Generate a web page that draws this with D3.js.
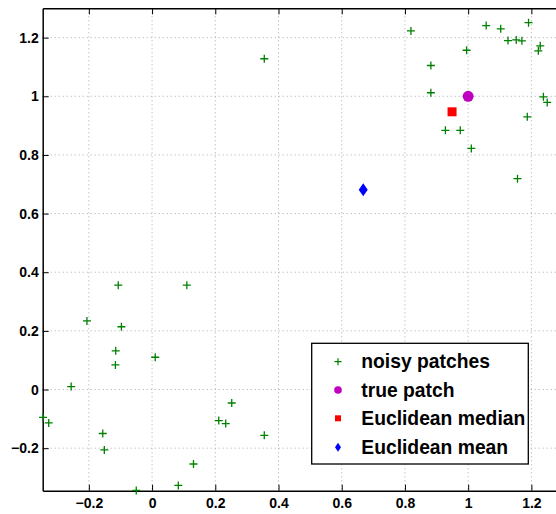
<!DOCTYPE html>
<html lang="en">
<head>
<meta charset="utf-8">
<title>Noisy patches</title>
<script src="https://d3js.org/d3.v7.min.js"></script>
<style>
  body { margin: 0; background: #fff; }
  text { font-family: "Liberation Sans", Arial, sans-serif; font-weight: bold; }
  .tick-label { font-size: 14px; }
  .legend-label { font-size: 19.3px; }
</style>
</head>
<body>
<div id="vis"></div>
<script>
// noisy patches (x, y)
const noisyX = [0.355, 0.819, 1.057, 1.103, 1.191, 1.126, 1.152, 1.170, 1.228, 1.222,
  0.995, 0.882, 0.882, 1.238, 1.250, 1.187, 0.928, 0.975, 1.010, 1.156,
  -0.107, 0.110, -0.206, -0.097, -0.115, -0.116, 0.010, -0.256, -0.345, -0.327,
  -0.156, -0.151, -0.050, 0.083, 0.131, 0.211, 0.233, 0.252, 0.355];
const noisyY = [1.128, 1.223, 1.241, 1.230, 1.251, 1.190, 1.192, 1.189, 1.172, 1.155,
  1.157, 1.105, 1.012, 0.998, 0.979, 0.930, 0.884, 0.884, 0.822, 0.719,
  0.356, 0.356, 0.234, 0.214, 0.132, 0.084, 0.110, 0.010, -0.095, -0.114,
  -0.150, -0.206, -0.344, -0.327, -0.254, -0.106, -0.116, -0.046, -0.156];
const truePatch = [1.0, 1.0];
const euclidMedian = [0.949, 0.947];
const euclidMean = [0.668, 0.681];

const xTicks = [-0.2, 0, 0.2, 0.4, 0.6, 0.8, 1, 1.2];
const yTicks = [-0.2, 0, 0.2, 0.4, 0.6, 0.8, 1, 1.2];
const legendLabels = ["noisy patches", "true patch", "Euclidean median", "Euclidean mean"];

const width = 556, height = 514;
const plotLeft = 42.7, plotTop = 8.3, plotRight = 563, plotBottom = 490.7;

const x = d3.scaleLinear().domain([-0.346, 1.3]).range([plotLeft, plotRight]);
const y = d3.scaleLinear().domain([-0.345, 1.3]).range([plotBottom, plotTop]);

const svg = d3.select("#vis").append("svg")
  .attr("width", width)
  .attr("height", height);

// grid
const grid = svg.append("g").attr("stroke", "#aaa").attr("stroke-width", 1)
  .attr("stroke-dasharray", "1,3");
grid.selectAll(".gx").data(xTicks).enter().append("line")
  .attr("x1", d => x(d)).attr("x2", d => x(d))
  .attr("y1", plotTop).attr("y2", plotBottom);
grid.selectAll(".gy").data(yTicks).enter().append("line")
  .attr("x1", plotLeft).attr("x2", plotRight)
  .attr("y1", d => y(d)).attr("y2", d => y(d));

// axes (MATLAB-like inward ticks)
const fmt = d => d3.format("")(d).replace("-", "\u2212");
const bottomAxis = d3.axisBottom(x).tickValues(xTicks).tickSizeInner(-6).tickSizeOuter(0).tickPadding(7).tickFormat(fmt);
const topAxis = d3.axisTop(x).tickValues(xTicks).tickSizeInner(-6).tickSizeOuter(0).tickFormat("");
const leftAxis = d3.axisLeft(y).tickValues(yTicks).tickSizeInner(-6).tickSizeOuter(0).tickPadding(4).tickFormat(fmt);

function styleAxis(g) {
  g.select(".domain").attr("stroke", "#000").attr("stroke-width", 1.5);
  g.selectAll(".tick line").attr("stroke", "#000").attr("stroke-width", 1);
  g.selectAll(".tick text").attr("class", "tick-label").attr("fill", "#000");
  g.attr("font-size", null).attr("font-family", null);
}

svg.append("g").attr("transform", `translate(0,${plotBottom})`).call(bottomAxis).call(styleAxis);
svg.append("g").attr("transform", `translate(0,${plotTop})`).call(topAxis).call(styleAxis);
svg.append("g").attr("transform", `translate(${plotLeft},0)`).call(leftAxis).call(styleAxis);

// noisy patches
const noisy = noisyX.map((d, i) => [d, noisyY[i]]);
const plus = (s) => `M${-s},0H${s}M0,${-s}V${s}`;
svg.append("g").selectAll("path").data(noisy).enter().append("path")
  .attr("transform", d => `translate(${x(d[0])},${y(d[1])})`)
  .attr("d", plus(4))
  .attr("stroke", "#008000").attr("stroke-width", 1.3).attr("fill", "none");

// true patch
svg.append("circle")
  .attr("cx", x(truePatch[0])).attr("cy", y(truePatch[1])).attr("r", 5.5)
  .attr("fill", "#bf00bf");
// Euclidean median
svg.append("rect")
  .attr("x", x(euclidMedian[0]) - 4.5).attr("y", y(euclidMedian[1]) - 4.5)
  .attr("width", 9).attr("height", 9).attr("fill", "#ff0000");
// Euclidean mean
const diamond = (w, h) => `M0,${-h}L${w},0L0,${h}L${-w},0Z`;
svg.append("path")
  .attr("transform", `translate(${x(euclidMean[0])},${y(euclidMean[1])})`)
  .attr("d", diamond(4.5, 6.5)).attr("fill", "#0000ff");

// legend
const lg = svg.append("g");
lg.append("rect").attr("x", 311.7).attr("y", 343.3).attr("width", 216.6).attr("height", 120.7)
  .attr("fill", "#fff").attr("stroke", "#000").attr("stroke-width", 1.3);
const rowY = [361.7, 390, 418.3, 447.3];
const mx = 338;
lg.append("path").attr("transform", `translate(${mx},${rowY[0]})`).attr("d", plus(3.5))
  .attr("stroke", "#008000").attr("stroke-width", 1.2).attr("fill", "none");
lg.append("circle").attr("cx", mx).attr("cy", rowY[1]).attr("r", 3.8).attr("fill", "#bf00bf");
lg.append("rect").attr("x", mx - 3).attr("y", rowY[2] - 3).attr("width", 6).attr("height", 6).attr("fill", "#ff0000");
lg.append("path").attr("transform", `translate(${mx},${rowY[3]})`).attr("d", diamond(3, 4.5)).attr("fill", "#0000ff");
lg.selectAll(".legend-label").data(legendLabels).enter().append("text")
  .attr("class", "legend-label")
  .attr("x", 361.3).attr("y", (d, i) => rowY[i])
  .attr("dy", "0.35em")
  .attr("fill", "#000")
  .text(d => d);
</script>
</body>
</html>
